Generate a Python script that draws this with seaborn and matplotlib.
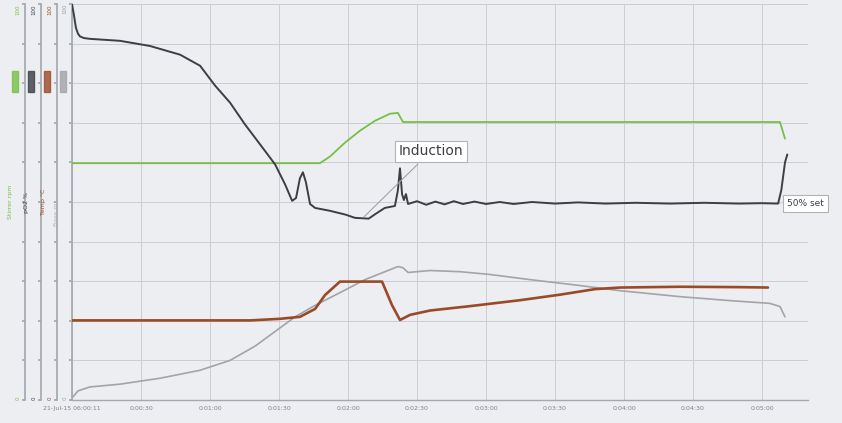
import numpy as np
import pandas as pd
import seaborn as sns
import matplotlib
matplotlib.use("Agg")
import matplotlib.pyplot as plt
from matplotlib.patches import Rectangle

# Zeitachse (Sekunden seit Start) und Beschriftungen
x_ticks = [0, 30, 60, 90, 120, 150, 180, 210, 240, 270, 300]
x_labels = ["21-Jul-15 06:00:11", "0:00:30", "0:01:00", "0:01:30", "0:02:00",
            "0:02:30", "0:03:00", "0:03:30", "0:04:00", "0:04:30", "0:05:00"]

# pO2 (dunkel)
t_po2 = [0, 0.9, 1.7, 2.6, 3.5, 5.2, 7.8, 20.9, 33.9, 47, 55.7, 62.2, 68.7, 75.2,
         81.7, 88.3, 92.6, 95.7, 97.4,
         99.1, 100.4, 101.7, 103.5, 105.7, 112, 119, 123, 129, 132, 136, 140.4,
         141.7, 142.6, 143.5, 144.3, 145.2, 146.1, 150, 154, 158, 162, 166, 170,
         175, 180, 186, 192, 200, 210, 220, 232, 245, 260, 275, 290, 300, 307,
         308.4, 310, 311]
v_po2 = [100, 97, 94, 92.5, 91.8, 91.4, 91.2, 90.7, 89.4, 87.2, 84.4, 79.4, 75.1, 69.6,
         64.6, 59.5, 54.5, 50.3, 51,
         56, 57.5, 55, 49.5, 48.5, 47.8, 46.8, 46, 45.8, 47, 48.5, 49,
         53, 58.5, 52, 50.5, 52, 49.5, 50.2, 49.3, 50.1, 49.4, 50.2, 49.5,
         50.1, 49.5, 50.0, 49.5, 50.0, 49.6, 49.9, 49.6, 49.8, 49.6, 49.8, 49.6, 49.7, 49.6,
         53, 60, 62]

# Rührer (grün)
t_stir = [0, 107.8, 112.2, 118.7, 125.2, 131.7, 138.3, 141.7, 143.9, 307.8, 310]
v_stir = [59.8, 59.8, 61.5, 65, 68, 70.5, 72.3, 72.5, 70.2, 70.2, 66]

# Temperatur (braun)
t_temp = [0, 77.4, 90.4, 99.1, 105.7, 110, 116.5, 134.8, 139.1, 142.6, 147, 155.7,
          173, 194.8, 212.2, 227.4, 238.3, 264.3, 290.4, 302.6]
v_temp = [20.1, 20.1, 20.5, 21, 23, 26.5, 29.9, 29.9, 24, 20.2, 21.5, 22.6,
          23.7, 25.2, 26.6, 28, 28.4, 28.6, 28.5, 28.4]

# Base (grau)
t_base = [0, 2.6, 7.8, 20.9, 38.3, 55.6, 68.7, 79.6, 88.3, 97, 105.7, 116.5, 127.4,
          136.1, 141.7, 143.9, 146.1, 155.7, 168.7, 181.7, 199.1, 220.9, 238.3,
          264.3, 286, 303.4, 307.8, 310]
v_base = [0.5, 2.3, 3.3, 4, 5.5, 7.5, 10, 13.6, 17.3, 21, 23.9, 27.1, 30.4,
          32.4, 33.7, 33.4, 32.2, 32.7, 32.4, 31.7, 30.4, 28.9, 27.6,
          26.1, 25.1, 24.4, 23.6, 21]

c_green = "#78bf45"
c_dark = "#3b3e45"
c_brown = "#9b4a28"
c_gray = "#a2a4a8"
c_spine = "#a4a8b0"
bg = "#eceef2"

sns.set_theme(style="white")
plt.rcParams["font.family"] = ["DejaVu Sans"]

fig = plt.figure(figsize=(8.42, 4.23), dpi=100, facecolor=bg)
ax = fig.add_axes([72 / 842, 1 - 400 / 423, (808 - 72) / 842, 396 / 423])
ax.set_facecolor(bg)

df_base = pd.DataFrame({"t": t_base, "v": v_base})
sns.lineplot(data=df_base, x="t", y="v", ax=ax, color=c_gray, lw=1.2)

axes_def = [
    ("Stirrer rpm", c_green, 47.5, pd.DataFrame({"t": t_stir, "v": v_stir}), 1.3),
    ("pO2 %", c_dark, 31.5, pd.DataFrame({"t": t_po2, "v": v_po2}), 1.4),
    ("Temp °C", c_brown, 15.5, pd.DataFrame({"t": t_temp, "v": v_temp}), 1.9),
]


def side_ticks(a, col):
    a.set_yticks(np.linspace(0, 100, 11))
    a.set_yticklabels(["0"] + [""] * 9 + ["100"], fontsize=4, color=col, rotation=90)
    labs = a.get_yticklabels()
    labs[0].set_va("bottom")
    labs[-1].set_va("top")
    a.tick_params(axis="y", length=2, color=c_spine, pad=1)


ax.set_xlim(0, 320)
ax.set_ylim(0, 100)
ax.set_xticks(x_ticks)
ax.set_xticklabels(x_labels, fontsize=4.5, color="#80838a")
side_ticks(ax, "#9a9da3")
ax.tick_params(axis="x", length=0, pad=4)
ax.grid(True, color="#cbced4", lw=0.7)
ax.set_xlabel("")
ax.set_ylabel("Base ml", fontsize=4.5, color="#b0b3b8", labelpad=1)
ax.yaxis.set_label_coords(-0.017, 0.47)
for s in ["top", "right"]:
    ax.spines[s].set_visible(False)
ax.spines["left"].set_color(c_spine)
ax.spines["bottom"].set_color(c_spine)
ax.spines["bottom"].set_linewidth(1.0)

twins = []
for label, col, off_px, df, lw in axes_def:
    tw = ax.twinx()
    sns.lineplot(data=df, x="t", y="v", ax=tw, color=col, lw=lw)
    tw.set_ylim(0, 100)
    tw.set_xlim(0, 320)
    tw.spines["right"].set_visible(False)
    tw.spines["top"].set_visible(False)
    tw.spines["bottom"].set_visible(False)
    tw.spines["left"].set_visible(True)
    tw.spines["left"].set_position(("outward", off_px * 72 / 100))
    tw.spines["left"].set_color(c_spine)
    tw.yaxis.set_ticks_position("left")
    tw.yaxis.set_label_position("left")
    side_ticks(tw, col)
    tw.set_xlabel("")
    tw.set_ylabel(label, fontsize=4.5, color=col, labelpad=1)
    tw.yaxis.set_label_coords(-(off_px + 11) / 736, 0.5)
    twins.append(tw)

# farbige Kennungen an den Achsen
for xpx, col in [(12, c_green), (28, c_dark), (44, c_brown), (60, c_gray)]:
    fig.patches.append(Rectangle((xpx / 842, 1 - 92 / 423), 6 / 842, 21 / 423,
                                 transform=fig.transFigure, color=col, alpha=0.8))

top = twins[-1]
top.annotate("Induction", xy=(126, 45.7), xytext=(142, 62.8), fontsize=10, color="#3b3e45",
             va="center", ha="left",
             bbox=dict(boxstyle="square,pad=0.25", fc="white", ec="#b0b3b8", lw=0.8),
             arrowprops=dict(arrowstyle="-", color="#a0a3a8", lw=0.8))
top.annotate("50% set", xy=(307.5, 49.6), xytext=(310.8, 49.6), fontsize=6.5, color="#3b3e45",
             va="center", ha="left", annotation_clip=False,
             bbox=dict(boxstyle="square,pad=0.45", fc="white", ec="#b0b3b8", lw=0.8),
             arrowprops=dict(arrowstyle="-", color="#a0a3a8", lw=0.8))

fig.savefig("out.png", dpi=100, facecolor=bg)
